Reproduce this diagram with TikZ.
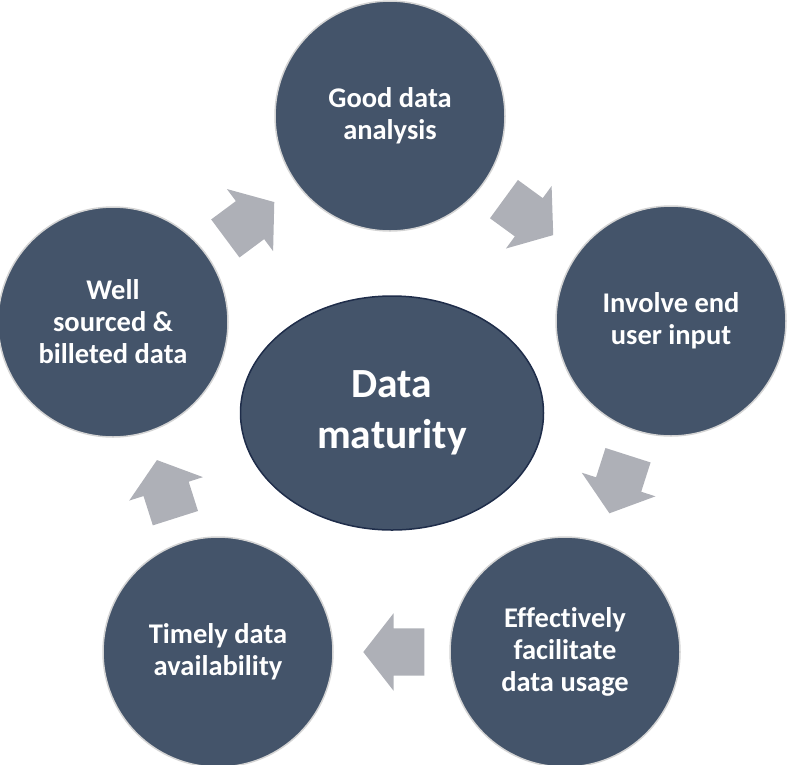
\documentclass[tikz,border=0pt]{standalone}
\usepackage{fontspec}
\setmainfont{Carlito}[Ligatures=NoCommon]
\usetikzlibrary{shapes.geometric,shapes.arrows}

\definecolor{slate}{HTML}{44546A}
\definecolor{rimgray}{HTML}{D4D4D4}
\definecolor{flowgray}{HTML}{AEB0B7}
\definecolor{hubline}{HTML}{1F2D4A}

\tikzset{
  stage/.style={circle, fill=slate, draw=rimgray, line width=1.5pt,
    minimum size=230pt, inner sep=0pt, text=white, align=center,
    font=\fontsize{28.5}{32}\selectfont\bfseries},
  hub/.style={ellipse, fill=slate, draw=hubline, line width=1.5pt,
    minimum width=303pt, minimum height=234pt, inner sep=0pt,
    text=white, align=center, font=\fontsize{41.5}{51}\selectfont\bfseries},
  flow/.style={single arrow, fill=flowgray, draw=none, inner xsep=0pt,
    inner ysep=23.5pt, minimum height=61pt, single arrow head extend=15pt,
    single arrow tip angle=104, sloped, allow upside down}
}

\begin{document}
\begin{tikzpicture}[x=1pt, y=-1pt]
            \useasboundingbox (0,0) rectangle (795,764);
            \node[hub] (maturity) at (392,413) {Data\\maturity};
            \node[stage] (analysis) at (390,116) {Good data\\analysis};
            \node[stage] (input) at (671,321) {Involve end\\user input};
            \node[stage] (usage) at (565,652) {Effectively\\facilitate\\data usage};
            \node[stage] (avail) at (218,652) {Timely data\\availability};
            \node[stage] (sourced) at (113,322) {Well\\sourced \&\\billeted data};
            \path (analysis) -- (input) node[pos=0.4, flow] {};
            \path (input) -- (usage) node[pos=0.4, flow] {};
            \path (usage) -- (avail) node[pos=0.4, flow] {};
            \path (avail) -- (sourced) node[pos=0.4, flow] {};
            \path (sourced) -- (analysis) node[pos=0.4, flow] {};
        \end{tikzpicture}
\end{document}
